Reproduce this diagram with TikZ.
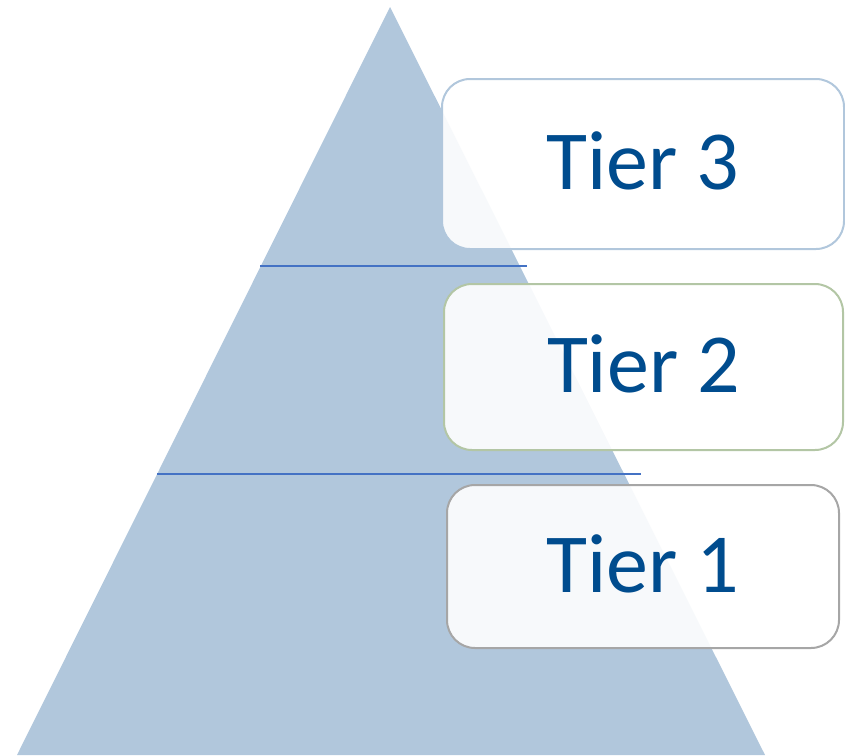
\documentclass[tikz,border=0pt]{standalone}
\usepackage{fontspec}
\setmainfont{Carlito}
\definecolor{pyrfill}{HTML}{B1C7DC}
\definecolor{divider}{HTML}{4472C4}
\definecolor{tiertext}{HTML}{004C8E}
\definecolor{edgeblue}{HTML}{B1C7DC}
\definecolor{edgegreen}{HTML}{B3C6A5}
\definecolor{edgegray}{HTML}{A6A6A6}
\tikzset{
  tierbox/.style={draw, line width=2pt, rounded corners=28pt, fill=white, fill opacity=0.9,
    text opacity=1, text=tiertext, font=\fontsize{84}{90}\selectfont, inner sep=0pt,
    text depth=6pt},
  divline/.style={draw=divider, line width=2pt}
}
\begin{document}
\begin{tikzpicture}[x=1pt,y=-1pt]
\useasboundingbox (0,0) rectangle (845,755);
% pyramid
\fill[pyrfill] (390,7) coordinate (apex) -- (17,755) coordinate (bl) -- (765,755) coordinate (br) -- cycle;
% level dividers
\coordinate (d1a) at (260,265.5);
\coordinate (d1b) at (527,265.5);
\coordinate (d2a) at (157,473.5);
\coordinate (d2b) at (641,473.5);
\draw[divline] (d1a) -- (d1b);
\draw[divline] (d2a) -- (d2b);
% tier labels
\node[tierbox, draw=edgeblue, minimum width=402pt, minimum height=170pt] (t3) at (643,164) {Tier 3};
\node[tierbox, draw=edgegreen, minimum width=399pt, minimum height=166pt] (t2) at (643.5,367) {Tier 2};
\node[tierbox, draw=edgegray, minimum width=392pt, minimum height=163pt] (t1) at (643,566.5) {Tier 1};
\end{tikzpicture}
\end{document}
